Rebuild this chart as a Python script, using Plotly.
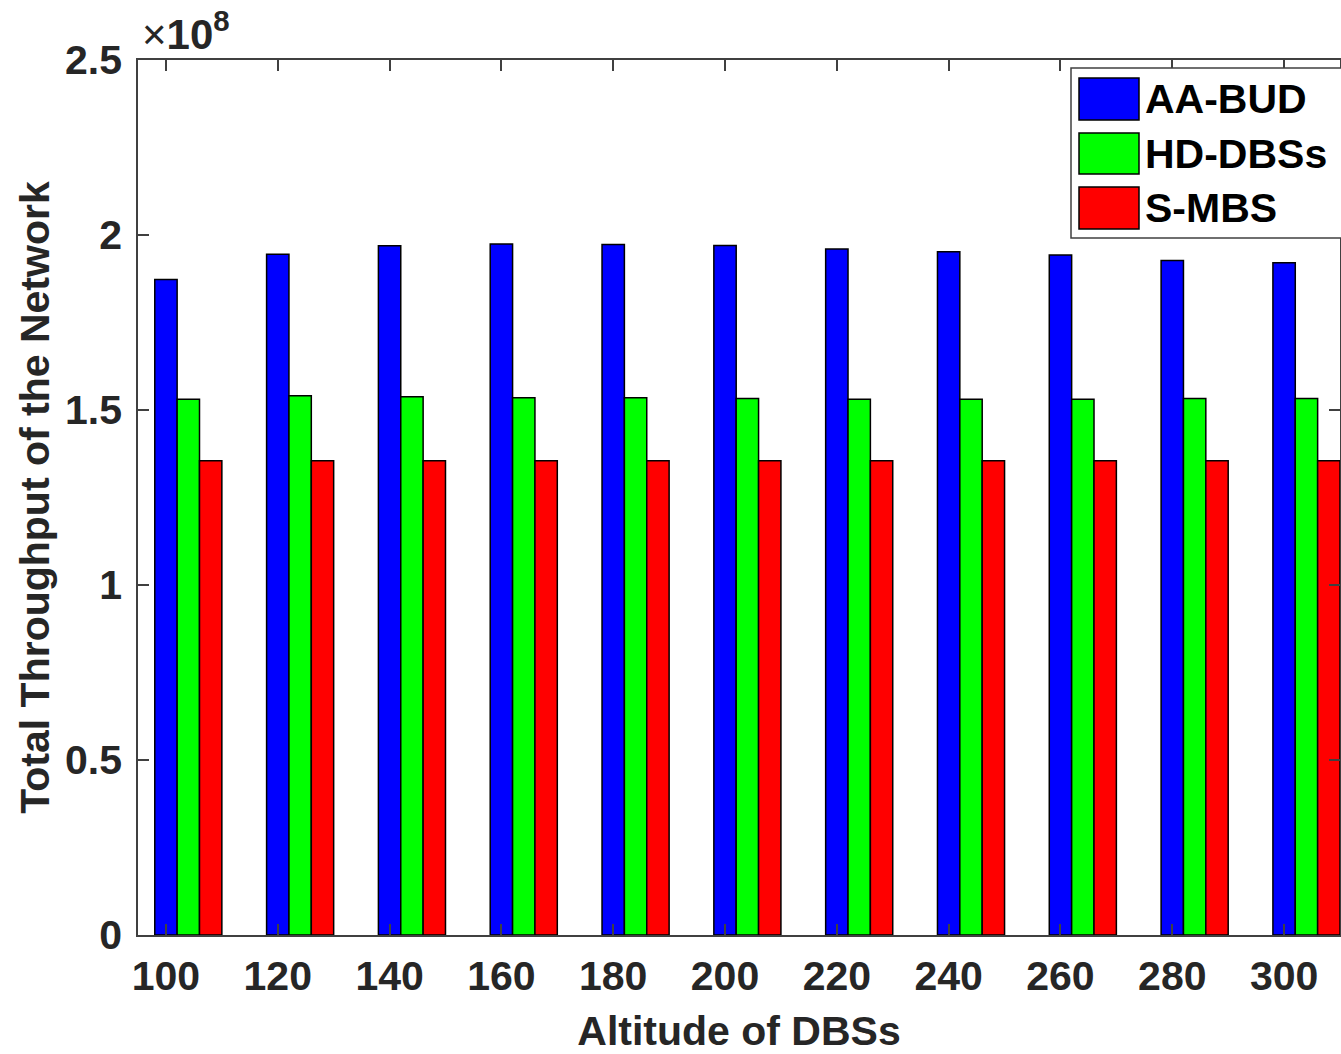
import plotly.graph_objects as go

altitudes = [100, 120, 140, 160, 180, 200, 220, 240, 260, 280, 300]
aa_bud = [1.873e8, 1.945e8, 1.969e8, 1.974e8, 1.973e8, 1.970e8, 1.960e8, 1.952e8, 1.943e8, 1.927e8, 1.921e8]
hd_dbss = [1.531e8, 1.541e8, 1.538e8, 1.535e8, 1.535e8, 1.533e8, 1.531e8, 1.531e8, 1.531e8, 1.533e8, 1.533e8]
s_mbs = [1.355e8] * 11
series_names = ["AA-BUD", "HD-DBSs", "S-MBS"]
series_colors = ["#0000FF", "#00FF00", "#FF0000"]
y_ticks = [0, 0.5e8, 1e8, 1.5e8, 2e8, 2.5e8]
y_tick_labels = ["0", "0.5", "1", "1.5", "2", "2.5"]

FONT = "Liberation Sans, Arial, sans-serif"
TXT = "#262626"

fig = go.Figure()
offsets = [-2, 2, 6]
for vals, name, col, off in zip([aa_bud, hd_dbss, s_mbs], series_names, series_colors, offsets):
    fig.add_trace(go.Bar(
        x=altitudes, y=vals, name=name, width=4, offset=off,
        marker=dict(color=col, line=dict(color="black", width=1.5)),
        showlegend=False,
    ))

fig.update_layout(
    width=1341, height=1054,
    margin=dict(l=138, r=1, t=60, b=119),
    paper_bgcolor="white", plot_bgcolor="white",
    barmode="overlay",
    font=dict(family=FONT, size=41, color=TXT),
)

fig.update_xaxes(
    range=[95, 310], tickvals=altitudes, ticktext=[f"<b>{a}</b>" for a in altitudes],
    ticks="inside", ticklen=11, tickwidth=1.5, tickcolor="#404040",
    showline=True, linecolor="#404040", linewidth=1.5, mirror="ticks",
    showgrid=False, zeroline=False, automargin=False, ticklabelstandoff=4,
    tickfont=dict(size=41, color=TXT, family=FONT),
    title=dict(text="<b>Altitude of DBSs</b>", font=dict(size=41, color=TXT, family=FONT), standoff=30),
)
fig.update_yaxes(
    range=[0, 2.5e8], tickvals=y_ticks, ticktext=[f"<b>{t}</b>" for t in y_tick_labels],
    ticks="inside", ticklen=11, tickwidth=1.5, tickcolor="#404040",
    showline=True, linecolor="#404040", linewidth=1.5, mirror="ticks",
    showgrid=False, zeroline=False, automargin=False, ticklabelstandoff=6,
    tickfont=dict(size=41, color=TXT, family=FONT),
    title=dict(text="<b>Total Throughput of the Network</b>", font=dict(size=41, color=TXT, family=FONT), standoff=3),
)

# exponent label
fig.add_annotation(xref="paper", yref="paper", x=0, y=1, xanchor="left", yanchor="bottom",
                   xshift=2, yshift=0, showarrow=False,
                   text="×<b>10<sup>8</sup></b>", font=dict(size=42, color=TXT, family=FONT))

# legend box (drawn in paper coordinates; helpers take pixel positions)
W, H = 1341 - 138 - 1, 1054 - 60 - 119
def px(xp):
    return (xp - 138) / W
def py(yp):
    return (935 - yp) / H
fig.add_shape(type="rect", xref="paper", yref="paper", x0=px(1071), x1=px(1345), y0=py(238), y1=py(68),
              line=dict(color="#404040", width=1.5), fillcolor="white", layer="above")
sw_rows = [(78, 120), (133, 174), (187, 229)]
for (y0, y1), name, col in zip(sw_rows, series_names, series_colors):
    fig.add_shape(type="rect", xref="paper", yref="paper", x0=px(1079), x1=px(1139), y0=py(y1), y1=py(y0),
                  line=dict(color="black", width=1.5), fillcolor=col, layer="above")
    fig.add_annotation(xref="paper", yref="paper", x=px(1143), y=py((y0 + y1) / 2), xanchor="left", yanchor="middle",
                       showarrow=False, text=f"<b>{name}</b>", font=dict(size=41, color="black", family=FONT))

fig.write_html("out.html", config={"displayModeBar": False},
               post_script="document.body.style.margin='0';document.body.style.overflow='hidden';")
